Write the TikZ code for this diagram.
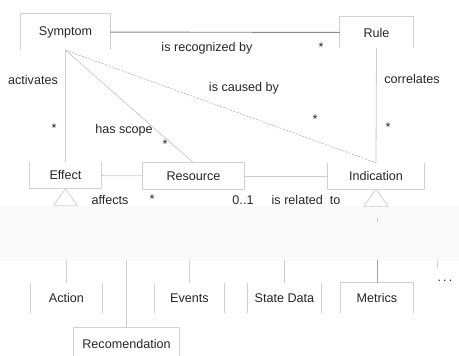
\documentclass[tikz,border=0pt]{standalone}
\usepackage{fontspec}
\setmainfont{Liberation Sans}
\definecolor{ink}{HTML}{262626}
\definecolor{edge}{HTML}{D2D2D2}
\definecolor{link}{HTML}{CDCDCD}
\definecolor{assoc}{HTML}{8A8A8A}
\definecolor{band}{HTML}{FAFAFA}
\begin{document}
\begin{tikzpicture}[x=1pt,y=-1pt,
  font=\fontsize{12.6}{14}\selectfont, text=ink,
  cls/.style={inner sep=0pt, minimum width=#1, minimum height=26},
  lbl/.style={inner sep=0pt},
  boxedge/.style={draw=edge, line width=0.8pt},
  conn/.style={draw=link, line width=0.8pt},
  gen/.style={draw=edge, line width=0.8pt, fill=white}]
\useasboundingbox (0,0) rectangle (459,356);
\fill[band] (0,206) rectangle (459,261);

% classes
\node[cls=89, minimum height=36] (sym) at (65.5,32) {Symptom};
\node[cls=73, minimum height=31] (rule) at (376.5,32.5) {Rule};
\node[cls=71] (eff) at (65.5,175.5) {Effect};
\node[cls=101] (res) at (193.5,176) {Resource};
\node[cls=96] (ind) at (376,176) {Indication};
\node[cls=71, minimum height=30] (act) at (66.5,298) {Action};
\node[cls=69, minimum height=30] (evt) at (189.5,298) {Events};
\node[cls=73, minimum height=30] (std) at (284.5,298) {State Data};
\node[cls=72, minimum height=30] (met) at (377,298) {Metrics};
\node[cls=105, minimum height=32] (rec) at (126.5,344) {Recomendation};
\node[lbl] (more) at (445,281) {.\,.\,.};

% visible box outlines
\draw[boxedge] (sym.south west) -- (sym.north west) -- (sym.north east) -- (sym.south east);
\draw[boxedge] (rule.south west) -- (rule.north west) -- (rule.north east) -- (rule.south east);
\draw[boxedge] (eff.north west) -- (eff.south west) -- (eff.south east) -- (eff.north east);
\draw[boxedge] (res.north west) rectangle (res.south east);
\draw[boxedge] (ind.north west) -- (ind.south west) -- (ind.south east) -- (ind.north east);
\draw[boxedge] (act.north west) -- (act.south west) (act.north east) -- (act.south east);
\draw[boxedge] (evt.north west) -- (evt.south west) (evt.north east) -- (evt.south east);
\draw[boxedge] (std.north west) -- (std.south west) (std.north east) -- (std.south east);
\draw[boxedge] (met.south west) -- (met.north west) -- (met.north east) -- (met.south east);
\draw[boxedge] (rec.south west) -- (rec.north west) -- (rec.north east) -- (rec.south east);

% associations
\draw[draw=assoc, line width=0.9pt] (sym) -- (rule);
\draw[conn] (sym.south) -- (eff.north);
\draw[conn] (rule.south) -- (ind.north);
\draw[draw=assoc!60, line width=0.5pt] (sym.south) -- (res.north);
\draw[draw=assoc!70, line width=0.6pt, dash pattern=on 2pt off 1.5pt] (sym.south) -- (ind.north);
\draw[conn] (eff) -- (res);
\draw[conn] (res) -- (ind);

% generalisation triangles
\draw[gen] (eff.south) -- ++(-12,17) -- ++(24,0) -- cycle;
\draw[gen] (ind.south) -- ++(-12,17) -- ++(24,0) -- cycle;
\coordinate (indtick) at (377,218);
\draw[conn] (indtick) -- ++(0,4);

% subclass stubs
\coordinate (actTop) at (66.5,260);
\coordinate (recTop) at (126.5,260);
\coordinate (evtTop) at (189.5,260);
\coordinate (stdTop) at (284.5,260);
\coordinate (metTop) at (377,260);
\coordinate (moreTop) at (437,260);
\draw[conn] (actTop) -- (act.north);
\draw[conn] (recTop) -- (rec.north);
\draw[conn] (evtTop) -- (evt.north);
\draw[conn] (stdTop) -- (std.north);
\draw[draw=assoc!80, line width=0.8pt] (metTop) -- (met.north);
\draw[conn] (moreTop) -- ++(0,8);

% association labels
\node[lbl] at (207,48) {is recognized by};
\node[lbl] at (321,47) {*};
\node[lbl] at (33,80) {activates};
\node[lbl] at (54,128) {*};
\node[lbl] at (124,130) {has scope};
\node[lbl] at (165,144) {*};
\node[lbl] at (244,88) {is caused by};
\node[lbl] at (315,119) {*};
\node[lbl] at (412,79) {correlates};
\node[lbl] at (388,127) {*};
\node[lbl] at (110,200) {affects};
\node[lbl] at (152,199) {*};
\node[lbl] at (243,200) {0..1};
\node[lbl] at (306,200) {is related\ \ to};
\end{tikzpicture}
\end{document}
